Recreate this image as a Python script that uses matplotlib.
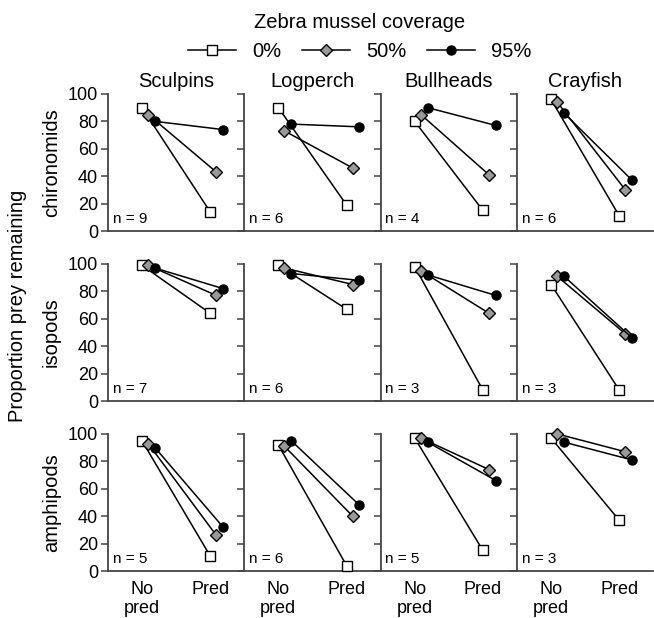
import numpy as np
import matplotlib
matplotlib.use('Agg')
import matplotlib.pyplot as plt
from matplotlib.lines import Line2D

plt.rcParams['font.family'] = ['Liberation Sans', 'DejaVu Sans']

predators = ['Sculpins', 'Logperch', 'Bullheads', 'Crayfish']
prey = ['chironomids', 'isopods', 'amphipods']
coverage = ['0%', '50%', '95%']
treatments = ['No\npred', 'Pred']
n_reps = [[9, 6, 4, 6],
          [7, 6, 3, 3],
          [5, 6, 5, 3]]

# [prey][predator] -> (no pred, pred) for each coverage level
cov0 = [[(90, 14), (90, 19), (80, 15), (96, 11)],
        [(99, 64), (99, 67), (98, 8), (85, 8)],
        [(95, 11), (92, 4), (97, 15), (97, 37)]]
cov50 = [[(85, 43), (73, 46), (85, 41), (94, 30)],
         [(99, 77), (97, 85), (95, 64), (91, 49)],
         [(93, 26), (91, 40), (97, 74), (100, 87)]]
cov95 = [[(80, 74), (78, 76), (90, 77), (86, 37)],
         [(97, 82), (93, 88), (92, 77), (91, 46)],
         [(90, 32), (95, 48), (94, 66), (94, 81)]]

series = [cov0, cov50, cov95]
markers = ['s', 'D', 'o']
faces = ['white', '#999999', 'black']
msizes = [7.5, 6.5, 6.5]
offsets = [0.0, 0.09, 0.19]
axcol = '#444444'
big = 14.5

fig, axes = plt.subplots(3, 4, figsize=(6.54, 6.18), dpi=100, sharey=True)
fig.subplots_adjust(left=0.165, right=0.999, top=0.848, bottom=0.076,
                    wspace=0, hspace=0.24)

x = np.array([0, 1])
for r in range(3):
    for c in range(4):
        ax = axes[r, c]
        for k in range(3):
            ax.plot(x + offsets[k], series[k][r][c], color='black', lw=1.1,
                    marker=markers[k], ms=msizes[k], mfc=faces[k],
                    mec='black', mew=1.0, clip_on=False, zorder=3)
        ax.set_xlim(-0.5, 1.5)
        ax.set_ylim(0, 100)
        ax.set_yticks(np.arange(0, 101, 20))
        ax.spines['top'].set_visible(False)
        ax.spines['right'].set_visible(False)
        ax.spines['left'].set_color(axcol)
        ax.spines['bottom'].set_color(axcol)
        ax.spines['left'].set_linewidth(1.3)
        ax.spines['bottom'].set_linewidth(1.3)
        ax.tick_params(axis='y', length=5, width=1.1, color=axcol,
                       labelsize=13, pad=2)
        ax.tick_params(axis='x', length=0, labelsize=13, pad=7)
        ax.set_xticks(x)
        if r == 2:
            ax.set_xticklabels(treatments, linespacing=1.15)
        else:
            ax.set_xticklabels([])
        if c > 0:
            ax.tick_params(axis='y', labelleft=False)
        ax.text(0.035, 0.04, 'n = %d' % n_reps[r][c], transform=ax.transAxes,
                fontsize=11, ha='left', va='bottom')
        if r == 0:
            ax.set_title(predators[c], fontsize=big, pad=5)
    axes[r, 0].set_ylabel(prey[r], fontsize=big, labelpad=5)

fig.text(0.027, 0.505, 'Proportion prey remaining', rotation=90,
         fontsize=big, ha='center', va='center')

handles = [Line2D([], [], color='black', lw=1.1, marker=markers[k],
                  ms=msizes[k], mfc=faces[k], mec='black')
           for k in range(3)]
leg = fig.legend(handles, coverage, loc='upper center',
                 bbox_to_anchor=(0.55, 1.008), ncol=3, frameon=False,
                 fontsize=big, title='Zebra mussel coverage',
                 title_fontsize=big, handlelength=2.4, columnspacing=1.0,
                 handletextpad=0.8)

fig.savefig('out.png', dpi=100)
